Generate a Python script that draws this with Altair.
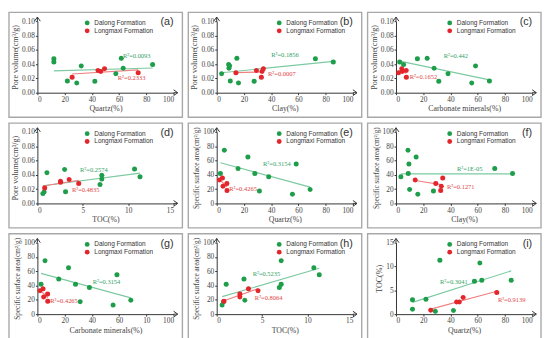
import altair as alt
import pandas as pd

FMS = ["Dalong Formation", "Longmaxi Formation"]
PT_COLORS = ["#1e9e4a", "#e3262b"]
LINE_COLORS = ["#7ccaa2", "#ef8080"]
TXT_COLORS = ["#34a267", "#e04646"]

# Dalong Formation samples
quartz_d = [12.1, 12.1, 22.0, 28.9, 32.2, 42.2, 57.6, 61.6, 63.0, 84.6]
clay_d = [72.5, 85.6, 10.0, 16.0, 9.5, 27.5, 3.6, 14.8, 9.0, 8.8]
carb_d = [15.7, 2.7, 68.6, 55.6, 58.4, 31.4, 38.2, 22.9, 28.0, 5.6]
toc_d = [3.0, 1.05, 3.1, 0.6, 11.3, 0.75, 6.9, 10.7, 7.1, 7.1]
pv_d = [0.0475, 0.043, 0.0164, 0.0137, 0.0374, 0.0160, 0.0265, 0.048, 0.0342, 0.0393]
ssa_d = [49.0, 41.8, 19.5, 12.7, 55.0, 17.3, 37.3, 65.0, 41.8, 74.5]

# Longmaxi Formation samples
quartz_l = [25.5, 44.5, 46.5, 49.3, 74.0]
clay_l = [32.8, 29.2, 33.3, 34.3, 14.1]
carb_l = [7.6, 7.5, 4.6, 4.2, 1.9]
toc_l = [0.8, 2.55, 2.55, 3.5, 4.55]
pv_l = [0.0215, 0.031, 0.0297, 0.0336, 0.028]
ssa_l = [18.0, 28.0, 24.0, 35.5, 32.7]

TICKS_100 = [0, 20, 40, 60, 80, 100]
TICKS_15 = [0, 5, 10, 15]
TICKS_PV = [0, 0.02, 0.04, 0.06, 0.08, 0.10]

r2_green = ["R²=0.0093", "R²=0.1856", "R²=0.442", "R²=0.2574", "R²=0.3154",
            "R²=1E-05", "R²=0.3154", "R²=0.5235", "R²=0.3041"]
r2_red = ["R²=0.2333", "R²=0.0007", "R²=0.1652", "R²=0.4835", "R²=0.4265",
          "R²=0.1271", "R²=0.4265", "R²=0.8064", "R²=0.9139"]
r2_green_x = [62.8, 40, 35, 4.7, 34, 44.7, 40.6, 3.96, 32.3]
r2_green_y = [0.0516, 0.052, 0.051, 0.047, 55, 48.4, 45.5, 55.5, 6.7]
r2_red_x = [59, 37.7, 10, 3.8, 9.2, 37.4, 9.4, 4.2, 74.8]
r2_red_y = [0.021, 0.026, 0.0217, 0.0193, 20, 22.6, 18, 22.7, 2.9]

panel_labels = ["(a)", "(b)", "(c)", "(d)", "(e)", "(f)", "(g)", "(h)", "(i)"]

PV_T = "Pore volume(cm³/g)"
SSA_T = "Specific surface area(cm²/g)"

panels = [
    dict(xd=quartz_d, yd=pv_d, xl=quartz_l, yl=pv_l, xdom=[0, 100], ydom=[0, 0.1], xt=TICKS_100, yt=TICKS_PV, xtitle="Quartz(%)", ytitle=PV_T, yfmt=".2f"),
    dict(xd=clay_d, yd=pv_d, xl=clay_l, yl=pv_l, xdom=[0, 100], ydom=[0, 0.1], xt=TICKS_100, yt=TICKS_PV, xtitle="Clay(%)", ytitle=PV_T, yfmt=".2f"),
    dict(xd=carb_d, yd=pv_d, xl=carb_l, yl=pv_l, xdom=[0, 100], ydom=[0, 0.1], xt=TICKS_100, yt=TICKS_PV, xtitle="Carbonate minerals(%)", ytitle=PV_T, yfmt=".2f"),
    dict(xd=toc_d, yd=pv_d, xl=toc_l, yl=pv_l, xdom=[0, 15], ydom=[0, 0.1], xt=TICKS_15, yt=TICKS_PV, xtitle="TOC(%)", ytitle=PV_T, yfmt=".2f"),
    dict(xd=carb_d, yd=ssa_d, xl=carb_l, yl=ssa_l, xdom=[0, 100], ydom=[0, 100], xt=TICKS_100, yt=TICKS_100, xtitle="Quartz(%)", ytitle=SSA_T, yfmt="d"),
    dict(xd=clay_d, yd=ssa_d, xl=clay_l, yl=ssa_l, xdom=[0, 100], ydom=[0, 100], xt=TICKS_100, yt=TICKS_100, xtitle="Clay(%)", ytitle=SSA_T, yfmt="d"),
    dict(xd=carb_d, yd=ssa_d, xl=carb_l, yl=ssa_l, xdom=[0, 100], ydom=[0, 100], xt=TICKS_100, yt=TICKS_100, xtitle="Carbonate minerals(%)", ytitle=SSA_T, yfmt="d", xexpr="datum.value == 80 ? '10' : datum.label"),
    dict(xd=toc_d, yd=ssa_d, xl=toc_l, yl=ssa_l, xdom=[0, 15], ydom=[0, 100], xt=TICKS_15, yt=TICKS_100, xtitle="TOC(%)", ytitle=SSA_T, yfmt="d"),
    dict(xd=quartz_d, yd=toc_d, xl=quartz_l, yl=toc_l, xdom=[0, 100], ydom=[0, 15], xt=TICKS_100, yt=TICKS_15, xtitle="Quartz(%)", ytitle="TOC(%)", yfmt="d"),
]

W, H = 139, 73
FL, FR, FT, FB = 29, 9, 9, 25
LEG_X = [47.5, 60.5, 51.5]

SERIF = "Liberation Serif"
SANS = "Liberation Sans"


def build(i, p):
    df = pd.DataFrame({
        "x": list(p["xd"]) + list(p["xl"]),
        "y": list(p["yd"]) + list(p["yl"]),
        "fm": [FMS[0]] * len(p["xd"]) + [FMS[1]] * len(p["xl"]),
    })
    xs = alt.Scale(domain=p["xdom"], nice=False, zero=False)
    ys = alt.Scale(domain=p["ydom"], nice=False, zero=False)
    xkw = dict(values=p["xt"], title=p["xtitle"], format="d")
    if "xexpr" in p:
        xkw["labelExpr"] = p["xexpr"]
    xaxis = alt.Axis(**xkw)
    yaxis = alt.Axis(values=p["yt"], title=p["ytitle"], format=p["yfmt"],
                     titleFontSize=7.4 if p["ytitle"] == SSA_T else 8.2)
    X = alt.X("x:Q", scale=xs, axis=xaxis)
    Y = alt.Y("y:Q", scale=ys, axis=yaxis)

    frame = alt.Chart(pd.DataFrame({"k": [0]})).mark_rect(
        fillOpacity=0, stroke="#a8a8a8", strokeWidth=1.4
    ).encode(x=alt.value(-FL), x2=alt.value(W + FR), y=alt.value(-FT), y2=alt.value(H + FB))

    reg = alt.Chart(df).transform_regression("x", "y", groupby=["fm"]).mark_line(
        strokeWidth=1.2
    ).encode(x=X, y=Y, stroke=alt.Stroke("fm:N", scale=alt.Scale(domain=FMS, range=LINE_COLORS), legend=None))

    pts = alt.Chart(df).mark_circle(size=26, opacity=1).encode(
        x=X, y=Y,
        color=alt.Color("fm:N", scale=alt.Scale(domain=FMS, range=PT_COLORS),
                        legend=alt.Legend(orient="none", legendX=LEG_X[i % 3], legendY=-1.5, title=None,
                                          labelFont=SANS, labelFontSize=6.6, labelColor="#333",
                                          symbolSize=24, symbolType="circle", symbolStrokeWidth=0,
                                          rowPadding=1, labelOffset=4, padding=0)),
    )

    tdf = pd.DataFrame({
        "x": [r2_green_x[i], r2_red_x[i]],
        "y": [r2_green_y[i], r2_red_y[i]],
        "t": [r2_green[i], r2_red[i]],
        "fm": FMS,
    })
    txt = alt.Chart(tdf).mark_text(font=SERIF, fontSize=6.6, align="left", baseline="middle").encode(
        x=X, y=Y, text="t:N",
        fill=alt.Fill("fm:N", scale=alt.Scale(domain=FMS, range=TXT_COLORS), legend=None),
    )

    xarrow = alt.Chart(pd.DataFrame({"x": [p["xdom"][1]], "y": [p["ydom"][0]]})).mark_point(
        shape="M 0 0 L 1.4 0 M 0 -1 L 1.4 0 L 0 1", size=36, filled=False, strokeWidth=1,
        color="#333", opacity=1
    ).encode(x=X, y=Y)
    yarrow = alt.Chart(pd.DataFrame({"x": [p["xdom"][0]], "y": [p["ydom"][1]]})).mark_point(
        shape="M 0 0 L 0 -1.4 M -1 0 L 0 -1.4 L 1 0", size=36, filled=False, strokeWidth=1,
        color="#333", opacity=1
    ).encode(x=X, y=Y)

    lab = alt.Chart(pd.DataFrame({"t": [panel_labels[i]]})).mark_text(
        font=SANS, fontSize=11, align="right", baseline="middle", color="#333"
    ).encode(x=alt.value(W), y=alt.value(1), text="t:N")

    return alt.layer(frame, reg, pts, txt, xarrow, yarrow, lab).properties(width=W, height=H)


charts = [build(i, p) for i, p in enumerate(panels)]
rows = []
for r in range(3):
    row = alt.hconcat(*charts[3 * r:3 * r + 3], spacing=4).resolve_scale(
        color="independent").resolve_legend(color="independent")
    rows.append(row)

chart = alt.vconcat(*rows, spacing=4).resolve_scale(
    color="independent").resolve_legend(color="independent").properties(padding=0).configure_view(
    strokeWidth=0
).configure_axis(
    grid=False, domainColor="#333", tickColor="#333", tickSize=2, labelPadding=1,
    labelFont=SERIF, labelFontSize=7.5, labelColor="#444",
    titleFont=SERIF, titleFontWeight="normal", titleColor="#444", titleFontSize=8, titlePadding=2
)

chart.save("out.html", embed_options={"renderer": "svg", "actions": False})
